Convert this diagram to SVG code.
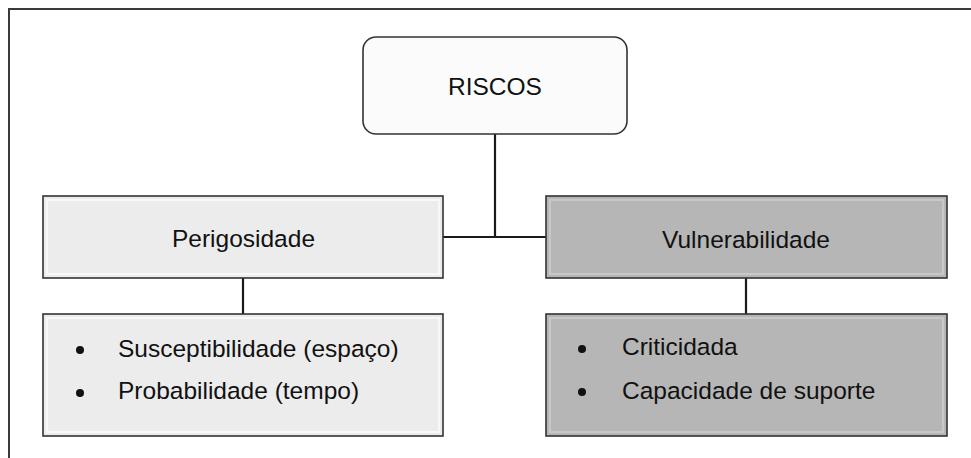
<svg xmlns="http://www.w3.org/2000/svg" width="971" height="458" viewBox="0 0 971 458">
  <style>
    .frame { fill: none; stroke: #3a3a3a; stroke-width: 2; }
    .box { stroke: #333; stroke-width: 1.6; }
    .light { fill: #ececec; }
    .dark { fill: #b6b6b6; }
    .bevel-l { fill: none; stroke: #f8f8f8; stroke-width: 2; }
    .bevel-d { fill: none; stroke: #c8c8c8; stroke-width: 2; }
    .lbl { font-family: "Liberation Sans", Arial, sans-serif; font-size: 24.5px; fill: #111; }
    .mid { text-anchor: middle; }
    .link { fill: none; stroke: #1a1a1a; stroke-width: 2.2; }
    .dot { fill: #111; }
  </style>

  <rect width="971" height="458" fill="#ffffff"/>
  <!-- page frame -->
  <path class="frame" d="M9,458 V9 H971"/>

  <!-- connectors -->
  <g id="connectors">
    <path class="link" d="M495,134 V237"/>
    <path class="link" d="M443,237 H546"/>
    <path class="link" d="M243,278 V314"/>
    <path class="link" d="M746,278 V314"/>
  </g>

  <g id="riscos">
    <rect x="363" y="37" width="264" height="97" rx="13" fill="#fbfbfb" class="box"/>
    <text class="lbl mid" x="495" y="95">RISCOS</text>
  </g>

  <g id="perigosidade">
    <rect x="43" y="196" width="400" height="82" class="box light"/>
    <rect x="47" y="200" width="392" height="74" class="bevel-l"/>
    <text class="lbl mid" x="243.5" y="247">Perigosidade</text>
  </g>

  <g id="vulnerabilidade">
    <rect x="546" y="196" width="401" height="82" class="box dark"/>
    <rect x="550" y="200" width="393" height="74" class="bevel-d"/>
    <text class="lbl mid" x="746" y="248">Vulnerabilidade</text>
  </g>

  <g id="perigosidade-itens">
    <rect x="43" y="314" width="400" height="122" class="box light"/>
    <rect x="47" y="318" width="392" height="114" class="bevel-l"/>
    <circle class="dot" cx="80" cy="350" r="4"/>
    <circle class="dot" cx="80" cy="393" r="4"/>
    <text class="lbl" x="118" y="357">Susceptibilidade (espaço)</text>
    <text class="lbl" x="118" y="399">Probabilidade (tempo)</text>
  </g>

  <g id="vulnerabilidade-itens">
    <rect x="546" y="314" width="401" height="122" class="box dark"/>
    <rect x="550" y="318" width="393" height="114" class="bevel-d"/>
    <circle class="dot" cx="582" cy="349" r="4"/>
    <circle class="dot" cx="582" cy="392" r="4"/>
    <text class="lbl" x="622" y="355">Criticidada</text>
    <text class="lbl" x="622" y="399">Capacidade de suporte</text>
  </g>
</svg>
